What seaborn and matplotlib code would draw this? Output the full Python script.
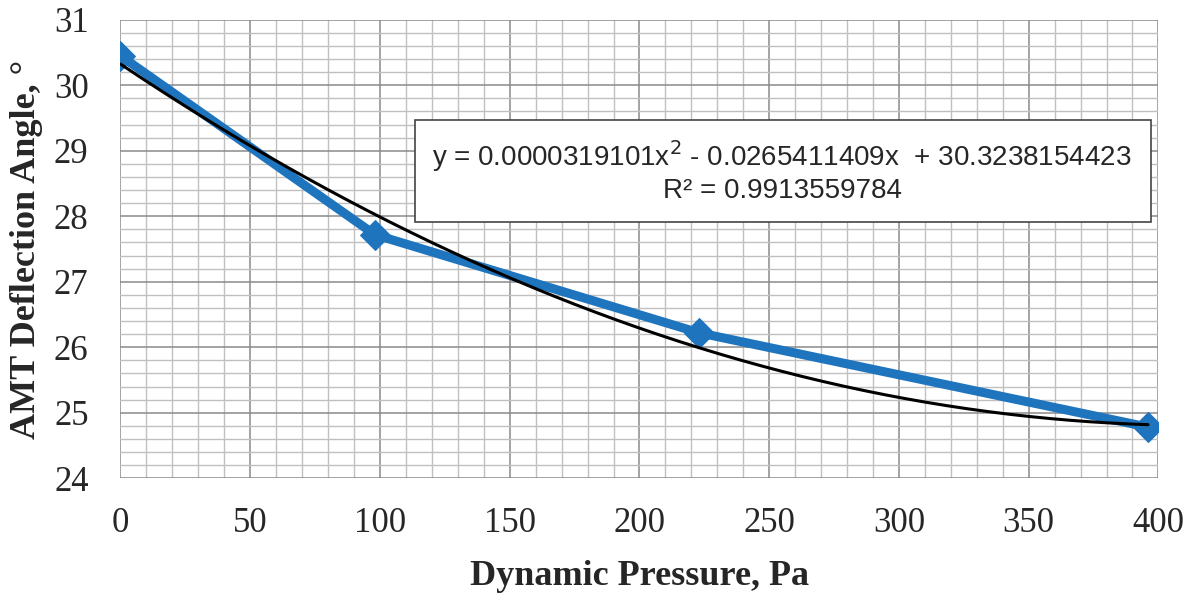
import numpy as np
import pandas as pd
import matplotlib
matplotlib.use("Agg")
import matplotlib.pyplot as plt
import seaborn as sns
from matplotlib.ticker import MultipleLocator
from matplotlib.patches import Rectangle

# Data
pressure = [0, 98, 223, 396]
angle = [30.45, 27.72, 26.22, 24.78]
# Trendline coefficients shown on the chart (x^2, x, const)
trend_coef = [0.0000319101, -0.0265411409, 30.3238154423]
eq_text = "y = 0.0000319101x$^2$ - 0.0265411409x  + 30.3238154423\nR² = 0.9913559784"
x_ticks = [0, 50, 100, 150, 200, 250, 300, 350, 400]
y_ticks = [24, 25, 26, 27, 28, 29, 30, 31]

sns.set_theme(style="white")
plt.rcParams['font.family'] = ['Liberation Serif', 'DejaVu Serif']

fig = plt.figure(figsize=(11.93, 6.0), dpi=100)
ax = fig.add_axes([0.101, 0.203, 0.870, 0.764])

df = pd.DataFrame({"p": pressure, "a": angle})
xs = np.linspace(pressure[0], pressure[-1], 200)
trend = pd.DataFrame({"p": xs, "a": np.polyval(trend_coef, xs)})

sns.lineplot(data=df, x="p", y="a", ax=ax, color="#1F74BE", linewidth=6.5,
             marker="D", markersize=15, markeredgecolor="#1F74BE", zorder=3)
sns.lineplot(data=trend, x="p", y="a", ax=ax, color="black", linewidth=2.2, zorder=4)

ax.set_xlim(0, 400)
ax.set_ylim(24, 31)
ax.xaxis.set_minor_locator(MultipleLocator(10))
ax.yaxis.set_minor_locator(MultipleLocator(0.2))
ax.set_xticks(x_ticks)
ax.set_yticks(y_ticks)
ax.grid(which="major", color="#8a8a8a", linewidth=1.1)
ax.grid(which="minor", color="#c0c0c0", linewidth=1.0)
ax.set_axisbelow(True)
for s in ax.spines.values():
    s.set_visible(False)
ax.tick_params(axis="both", which="major", direction="out", length=9, width=1.1,
               color="#8a8a8a", labelsize=25)
ax.tick_params(axis="x", which="major", pad=12)
ax.tick_params(axis="y", which="major", pad=14)
ax.tick_params(axis="both", which="minor", length=0)

ax.set_xlabel("Dynamic Pressure, Pa", fontsize=26, fontweight="bold", labelpad=14)
ax.set_ylabel("AMT Deflection Angle, °", fontsize=26, fontweight="bold", labelpad=8)

ax.add_patch(Rectangle((113.4, 27.91), 283.6, 1.56, facecolor="white",
                       edgecolor="#444444", linewidth=1.2, zorder=5))
ax.text(255, 28.69, eq_text, ha="center", va="center", fontsize=20,
        family=["Liberation Sans", "DejaVu Sans"], linespacing=1.2, zorder=6)

fig.savefig("out.png", dpi=100)
